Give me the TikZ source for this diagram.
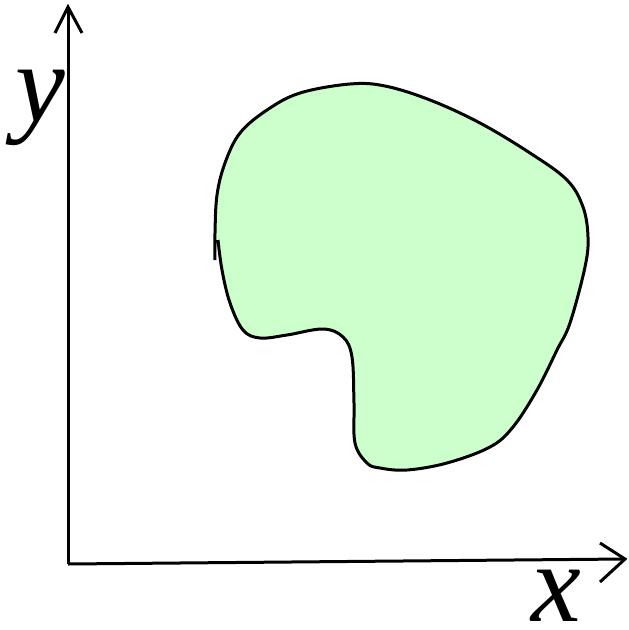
\documentclass[tikz,border=0pt]{standalone}
\usepackage{fontspec}
\setmainfont{Liberation Serif}
\definecolor{shapegreen}{HTML}{CCFFCC}
\begin{document}
\begin{tikzpicture}[x=1pt,y=-1pt,
  axisline/.style={line width=3pt, line cap=butt},
  barb/.style={line width=3pt, line join=miter},
  region/.style={fill=shapegreen, draw=black, line width=3pt},
  axislabel/.style={font=\fontsize{112}{112}\selectfont\itshape, inner sep=0pt, anchor=base}]
\useasboundingbox (0,0) rectangle (629,630);
% region
\draw[region] plot[smooth, tension=0.6] coordinates {
 (215,260) (215,233) (217,195) (225,163) (240,133) (267,110) (300,93) (350,84)
 (385,86) (430,100) (480,123) (530,153) (567,180) (583,207) (588,237) (585,267)
 (570,323) (557,350) (537,390) (513,427) (490,447) (447,463) (407,470) (380,468)
 (367,463) (355,443) (354,403) (352,357) (343,337) (323,329) (287,335) (260,338)
 (243,330) (230,303) (222,270) (218,240)};
% axes
\coordinate (O) at (68,564);
\coordinate (ytip) at (68,7);
\coordinate (xtip) at (625,559);
\draw[axisline] (O) -- (ytip);
\draw[axisline] (O) -- (xtip);
\draw[barb] (55,33) -- (ytip) -- (82,33);
\draw[barb] (600,543) -- (xtip) -- (600,582);
\node[axislabel] (ylab) at (40,121) {y};
\node[axislabel, text depth=0pt] (xlab) at (556,621) {x};
\end{tikzpicture}
\end{document}
